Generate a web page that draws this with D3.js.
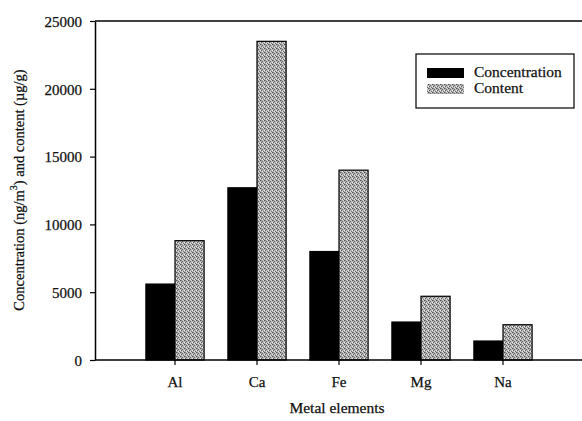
<!DOCTYPE html>
<html>
<head>
<meta charset="utf-8">
<script src="https://cdn.jsdelivr.net/npm/d3@7/dist/d3.min.js"></script>
<style>
  html, body { margin: 0; padding: 0; background: #fff; }
  svg { display: block; }
  text { font-family: "Liberation Serif", "Times New Roman", serif; fill: #111; stroke: #111; stroke-width: 0.25px; }
</style>
</head>
<body>
<svg id="chart" width="582" height="421"></svg>
<script>
// Metal elements and their measured values
const categories = ["Al", "Ca", "Fe", "Mg", "Na"];
const seriesNames = ["Concentration", "Content"];
const concentration = [5600, 12700, 8000, 2800, 1400];   // ng/m3
const content = [8800, 23500, 14000, 4700, 2600];         // µg/g
const yTicks = [0, 5000, 10000, 15000, 20000, 25000];

const svg = d3.select("#chart");
const plotLeft = 95, plotTop = 21, plotBottom = 360, plotRight = 582;

// Stippled gray fill for the Content series
const defs = svg.append("defs");
const pat = defs.append("pattern")
  .attr("id", "stipple")
  .attr("patternUnits", "userSpaceOnUse")
  .attr("width", 4).attr("height", 4);
pat.append("rect").attr("width", 4).attr("height", 4).attr("fill", "#b4b4b4");
[[0,0,"#505050"],[2,1,"#6a6a6a"],[1,2,"#5c5c5c"],[3,3,"#707070"],[2,3,"#e4e4e4"],[0,2,"#eeeeee"],[3,0,"#d6d6d6"],[1,0,"#8c8c8c"]]
  .forEach(([x, y, c]) => pat.append("rect").attr("x", x).attr("y", y)
    .attr("width", 1).attr("height", 1).attr("fill", c));

const x0 = d3.scaleBand().domain(categories).range([93, 585])
  .paddingInner(0.29).paddingOuter(0.645);
const x1 = d3.scaleBand().domain(seriesNames).range([0, x0.bandwidth()]);
const y = d3.scaleLinear().domain([0, 25000]).range([plotBottom, plotTop]);

const rows = categories.map((c, i) => ({ cat: c, vals: [concentration[i], content[i]] }));
const fills = { "Concentration": "#000", "Content": "url(#stipple)" };

// Bars
const g = svg.append("g");
rows.forEach(r => {
  seriesNames.forEach((s, j) => {
    g.append("rect")
      .attr("x", x0(r.cat) + x1(s))
      .attr("y", y(r.vals[j]))
      .attr("width", x1.bandwidth())
      .attr("height", y(0) - y(r.vals[j]))
      .attr("fill", fills[s])
      .attr("stroke", "#000")
      .attr("stroke-width", 1.2);
  });
});

// Top frame line
svg.append("line")
  .attr("x1", plotLeft).attr("x2", plotRight)
  .attr("y1", plotTop).attr("y2", plotTop)
  .attr("stroke", "#000").attr("stroke-width", 1.5);

// Y axis
const yAxis = svg.append("g")
  .attr("transform", `translate(${plotLeft},0)`)
  .call(d3.axisLeft(y).tickValues(yTicks).tickSize(5).tickSizeOuter(0).tickFormat(d3.format("d")));
yAxis.select(".domain").attr("stroke-width", 1.5);
yAxis.selectAll(".tick line").attr("stroke-width", 1.2);
yAxis.selectAll(".tick text")
  .attr("x", -13).attr("dy", "0.35em")
  .style("font-size", "15px")
  .style("font-family", "'Liberation Serif', serif");

// X axis
const xAxis = svg.append("g")
  .attr("transform", `translate(0,${plotBottom})`)
  .call(d3.axisBottom(x0).tickSize(5).tickSizeOuter(0));
xAxis.select(".domain").attr("d", `M${plotLeft},0H${plotRight}`).attr("stroke-width", 1.5);
xAxis.selectAll(".tick line").attr("stroke-width", 1.2);
xAxis.selectAll(".tick text")
  .attr("y", 16)
  .style("font-size", "15px")
  .style("font-family", "'Liberation Serif', serif");

// Axis titles
svg.append("text")
  .attr("x", 337).attr("y", 413)
  .attr("text-anchor", "middle")
  .style("font-size", "15.5px")
  .text("Metal elements");

const yt = svg.append("text")
  .attr("transform", `translate(24,190) rotate(-90)`)
  .attr("text-anchor", "middle")
  .style("font-size", "14.5px");
yt.append("tspan").text("Concentration (ng/m");
yt.append("tspan").attr("dy", -7).style("font-size", "10px").text("3");
yt.append("tspan").attr("dy", 7).text(") and content (µg/g)");

// Legend
const lg = svg.append("g");
lg.append("rect")
  .attr("x", 416).attr("y", 54).attr("width", 158).attr("height", 54)
  .attr("fill", "#fff").attr("stroke", "#000").attr("stroke-width", 1.2);
seriesNames.forEach((s, i) => {
  const yy = 68 + i * 16;
  lg.append("rect")
    .attr("x", 427).attr("y", yy).attr("width", 37).attr("height", 10)
    .attr("fill", fills[s]);
  lg.append("text")
    .attr("x", 474).attr("y", yy + 9)
    .style("font-size", "15.5px")
    .text(s);
});
</script>
</body>
</html>
